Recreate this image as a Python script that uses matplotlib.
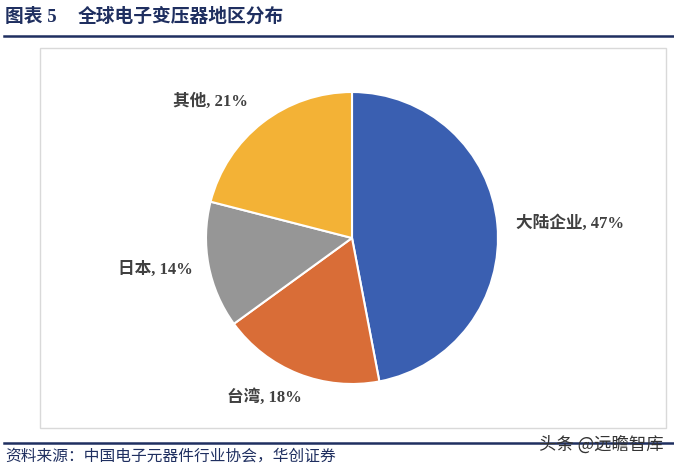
import matplotlib
matplotlib.use("Agg")
import matplotlib.pyplot as plt
from matplotlib.patches import Rectangle
from matplotlib.lines import Line2D

categories = ["大陆企业", "台湾", "日本", "其他"]
values = [47, 18, 14, 21]
colors = ["#3A5FB1", "#D96D37", "#969696", "#F3B236"]
label_pos = [(1.49, 0.10), (-0.60, -1.09), (-1.35, -0.22), (-0.97, 0.93)]

W, H = 674, 467
fig = plt.figure(figsize=(W / 100, H / 100), dpi=100)
fig.patch.set_facecolor("white")

fam = ["Liberation Serif", "Noto Sans CJK SC"]
navy = "#1F2F60"

# title
fig.text(5 / W, 1 - 17 / H, "图表 5", family=fam, fontweight="bold", fontsize=13.5,
         color=navy, va="center", ha="left")
fig.text(78 / W, 1 - 17 / H, "全球电子变压器地区分布", family=fam, fontweight="bold",
         fontsize=13.5, color=navy, va="center", ha="left")
fig.add_artist(Line2D([4 / W, 1], [1 - 36 / H, 1 - 36 / H], color=navy, lw=1.8))

# chart box
fig.add_artist(Rectangle((40 / W, 1 - 428 / H), (666 - 40) / W, (428 - 48) / H,
                         fill=False, edgecolor="#D9D9D9", lw=1.0))

# bottom line and source
fig.add_artist(Line2D([4 / W, 1], [1 - 443 / H, 1 - 443 / H], color=navy, lw=1.8))
fig.text(5 / W, 1 - 457 / H, "资料来源：中国电子元器件行业协会，华创证券", family=fam,
         fontsize=11.3, color=navy, va="center", ha="left", style="italic")
fig.text(664 / W, 1 - 445 / H, "头条 @远瞻智库", family=["Noto Sans CJK SC", "DejaVu Sans"],
         fontsize=12.5, color="#333333", va="center", ha="right")

# pie
cx, cy, r = 352, 238, 146
ax = fig.add_axes([(cx - r) / W, 1 - (cy + r) / H, 2 * r / W, 2 * r / H])
ax.pie(values, colors=colors, startangle=90, counterclock=False,
       wedgeprops=dict(edgecolor="white", linewidth=1.5))
ax.set_xlim(-1, 1)
ax.set_ylim(-1, 1)
ax.set_aspect("auto")
for cat, v, (x, y) in zip(categories, values, label_pos):
    ax.text(x, y, f"{cat}, {v}%", family=fam, fontweight="bold", fontsize=12,
            color="#404040", ha="center", va="center", clip_on=False)

fig.savefig("out.png", dpi=100)
